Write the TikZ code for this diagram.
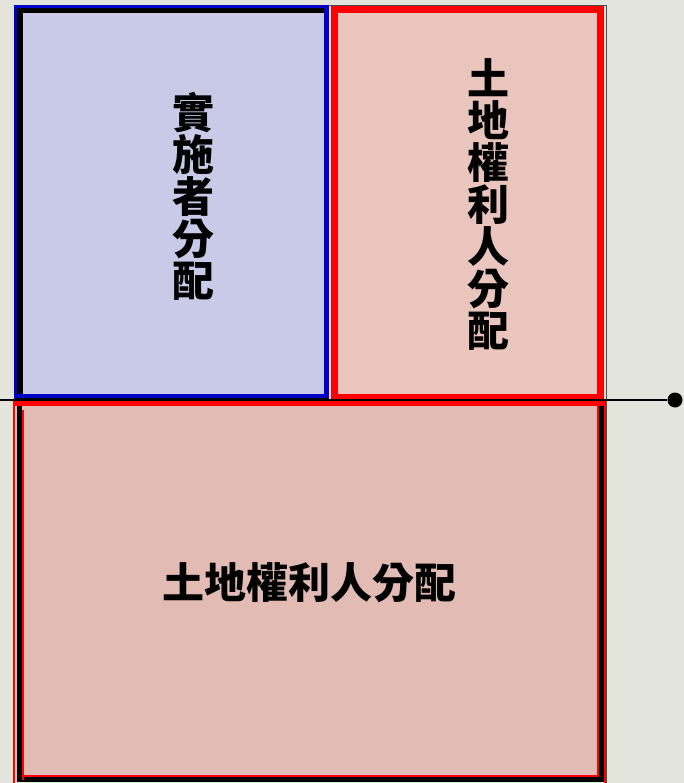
\documentclass[tikz,border=0pt]{standalone}
\usepackage{fontspec}
\newfontfamily\cjk{Noto Sans CJK TC}
\definecolor{bg}{RGB}{227,228,220}
\definecolor{lav}{RGB}{200,202,232}
\definecolor{pinkA}{RGB}{233,197,190}
\definecolor{pinkB}{RGB}{226,188,180}
\definecolor{myblue}{RGB}{0,0,200}
\definecolor{myred}{RGB}{255,0,0}
\tikzset{
  lbl/.style={font=\cjk\bfseries\fontsize{42}{42}\selectfont, text=black, align=center, inner sep=0pt},
}
\begin{document}
\begin{tikzpicture}[x=1pt,y=-1pt]
\useasboundingbox (0,0) rectangle (684,783);
\fill[bg] (0,0) rectangle (684,783);
% outer thin frame
\draw[black!70, line width=1pt] (13.5,5.5) -- (606.5,5.5) -- (606.5,790);
% bottom box
\fill[pinkB] (15,401) rectangle (604,782);
\draw[myred, line width=2pt] (14,402) rectangle (605,790);
\draw[black, line width=5pt] (19.5,405) -- (19.5,779.5) -- (601.5,779.5) -- (601.5,405);
\draw[myred, line width=1.2pt] (23,780) -- (23,410);
\draw[myred, line width=1.2pt] (22,776) -- (598,776) -- (598,406);
\node[inner sep=0pt, minimum width=582pt, minimum height=374pt] (bottom) at (310,591) {};
% blue box
\fill[lav] (14,6) rectangle (329,399);
\draw[black, line width=6pt] (20,400) -- (20,10) -- (327,10);
\draw[myblue, line width=3pt] (15,399) -- (15,7) -- (326,7);
\draw[myblue, line width=5pt] (326,5.5) -- (326,396) -- (17,396);
\draw[black, line width=2pt] (15,399) -- (329,399);
\node[inner sep=0pt, minimum width=315pt, minimum height=393pt] (blue) at (171,203) {};
% red box
\fill[pinkA] (331,7) rectangle (604,401);
\draw[myred, line width=7pt] (334.5,10) rectangle (600.5,397.5);
\node[inner sep=0pt, minimum width=273pt, minimum height=394pt] (red) at (467,204) {};
% divider line with dot
\draw[myred, line width=6pt] (14,403) -- (604,403);
\coordinate (lstart) at (0,400);
\node[circle, fill=black, inner sep=0pt, minimum size=15pt] (dot) at (675,400) {};
\draw[black, line width=1.3pt] (lstart) -- (dot);
% labels
\node[lbl] (t1) at (193,196) {實\\施\\者\\分\\配};
\node[lbl] (t2) at (488,205) {土\\地\\權\\利\\人\\分\\配};
\node[lbl] (t3) at (309,583) {土地權利人分配};
\end{tikzpicture}
\end{document}
